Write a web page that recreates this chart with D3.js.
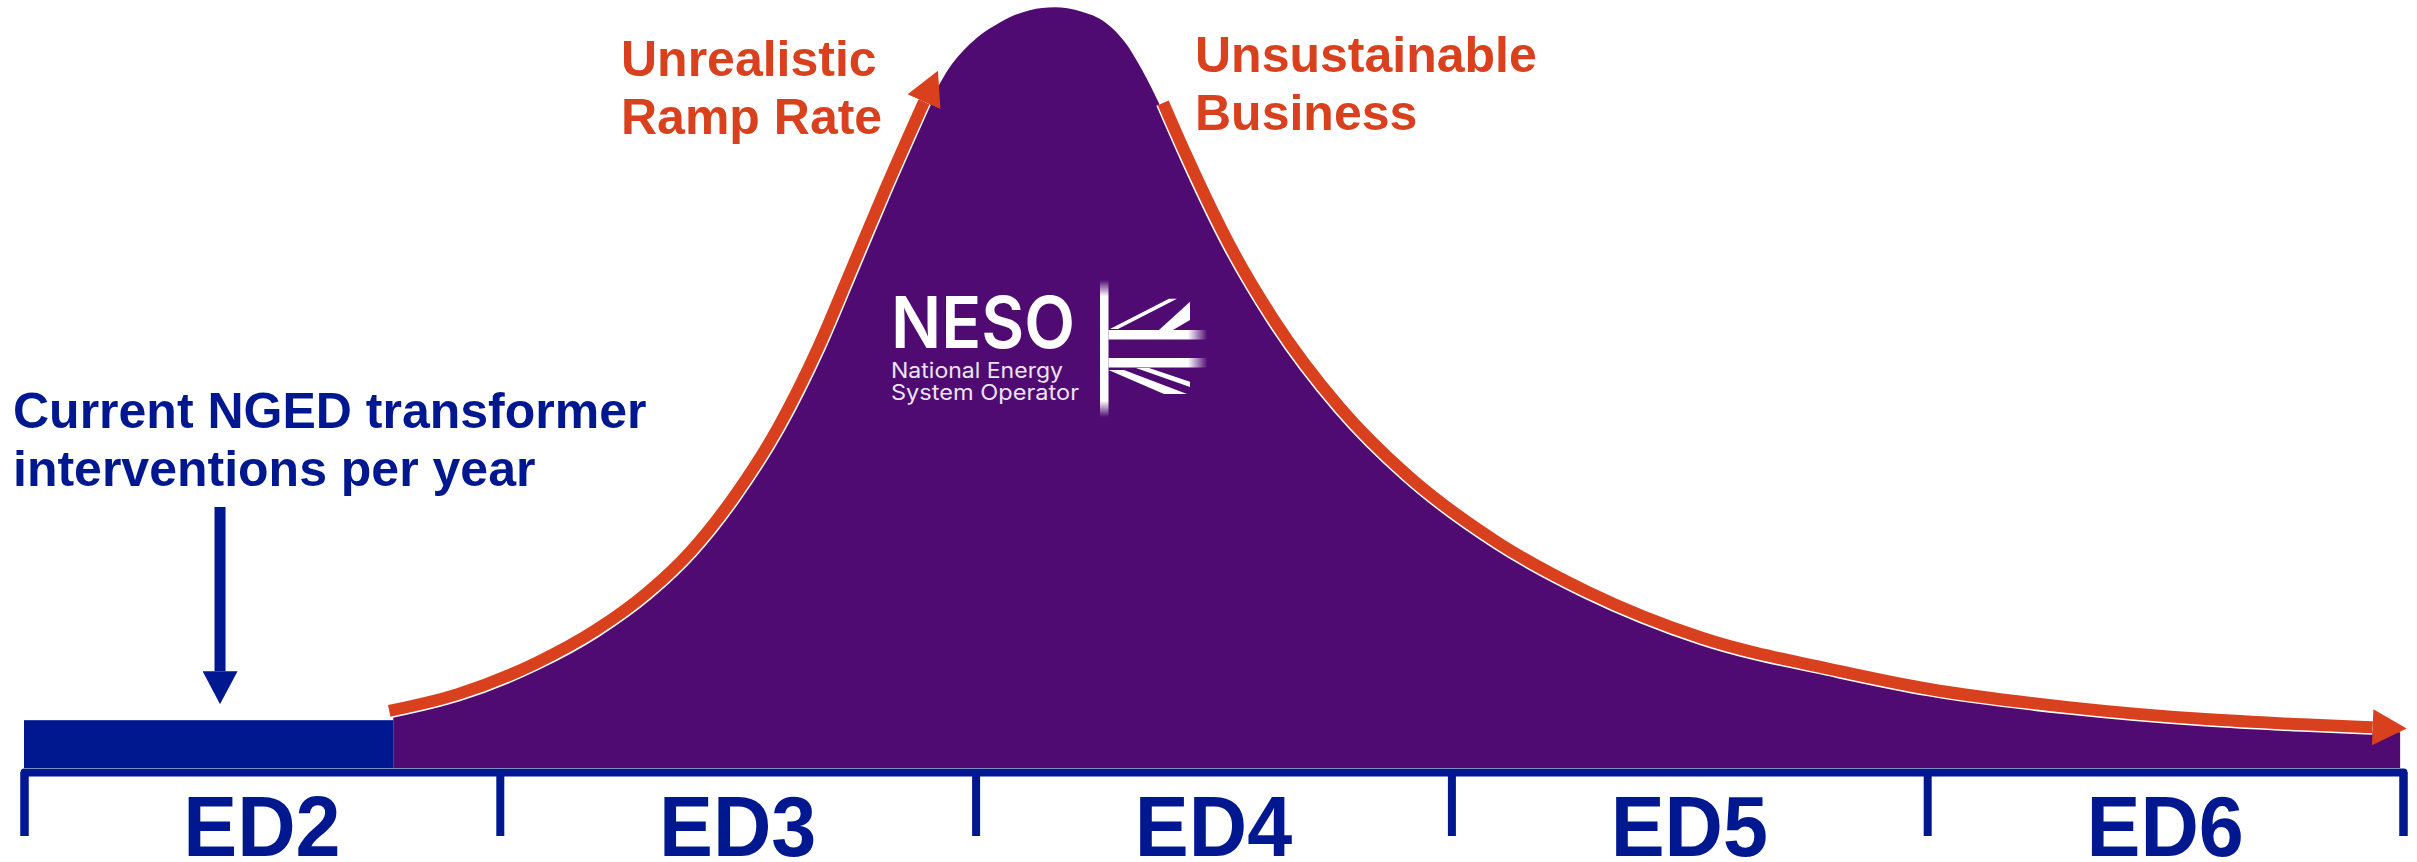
<!DOCTYPE html>
<html>
<head>
<meta charset="utf-8">
<script src="https://cdn.jsdelivr.net/npm/d3@7"></script>
<style>
  body { margin: 0; background: #fff; }
  text { font-family: "Liberation Sans", Arial, sans-serif; font-weight: bold; }
</style>
</head>
<body>
<div id="chart"></div>
<script>
'use strict';

// regulatory periods along the bottom
const periods = ["ED2", "ED3", "ED4", "ED5", "ED6"];
const periodStarts = [2023, 2028, 2033, 2038, 2043];
const periodEnd = 2048;

// transformer interventions per year, as multiples of today's rate
const currentRate = 1;
const currentYears = [2023, 2026.88];
const years = [2026.88, 2027.60, 2028.42, 2029.05, 2029.59, 2030.05, 2030.50, 2030.97, 2031.39, 2031.73,
  2032.08, 2032.50, 2032.69, 2032.94, 2033.26, 2033.57, 2033.83, 2034.10, 2034.36, 2034.57,
  2034.75, 2034.94, 2035.19, 2035.65, 2036.09, 2036.80, 2037.50, 2038.45, 2039.40, 2040.60,
  2042.04, 2042.99, 2044.45, 2045.89, 2046.92, 2047.65, 2047.97];
const interventions = [1.09, 1.44, 2.09, 2.78, 3.56, 4.43, 5.56, 7.03, 8.70, 10.29,
  11.94, 13.83, 14.54, 15.14, 15.60, 15.85, 15.91, 15.83, 15.60, 15.18,
  14.60, 13.85, 12.72, 10.83, 9.35, 7.47, 6.07, 4.66, 3.62, 2.66,
  1.97, 1.59, 1.21, 0.96, 0.85, 0.79, 0.75];

// stretches of the curve marked with the orange arrows
const rampYears = [2026.88, 2032.50];
const declineYears = [2034.94, 2047.65];
const arrowYear = 2025.06;

const navy = "#00188f", purple = "#4f0b72", orange = "#d9401e";
const width = 2417, height = 862;

const x = d3.scaleLinear().domain([2023, periodEnd]).range([24, 2403]);
const y = d3.scaleLinear().domain([0, 16]).range([768, 3]);

const svg = d3.select("#chart").append("svg")
  .attr("width", width)
  .attr("height", height);

const defs = svg.append("defs");

// arrow heads
defs.append("marker")
  .attr("id", "orangeHead")
  .attr("markerUnits", "userSpaceOnUse")
  .attr("viewBox", "0 0 34 36")
  .attr("markerWidth", 34).attr("markerHeight", 36)
  .attr("refX", 0).attr("refY", 18)
  .attr("orient", "auto")
  .append("path").attr("d", "M0,0L34,18L0,36Z").attr("fill", orange);

defs.append("marker")
  .attr("id", "navyHead")
  .attr("markerUnits", "userSpaceOnUse")
  .attr("viewBox", "0 0 33 35")
  .attr("markerWidth", 33).attr("markerHeight", 35)
  .attr("refX", 0).attr("refY", 17.5)
  .attr("orient", "auto")
  .append("path").attr("d", "M0,0L33,17.5L0,35Z").attr("fill", navy);

// fades used in the logo flag
const fadeV = defs.append("linearGradient").attr("id", "fadeV")
  .attr("x1", 0).attr("y1", 0).attr("x2", 0).attr("y2", 1);
fadeV.append("stop").attr("offset", 0).attr("stop-color", "#fff").attr("stop-opacity", 0);
fadeV.append("stop").attr("offset", 0.12).attr("stop-color", "#fff").attr("stop-opacity", 1);
fadeV.append("stop").attr("offset", 0.88).attr("stop-color", "#fff").attr("stop-opacity", 1);
fadeV.append("stop").attr("offset", 1).attr("stop-color", "#fff").attr("stop-opacity", 0);

const fadeH = defs.append("linearGradient").attr("id", "fadeH")
  .attr("x1", 0).attr("y1", 0).attr("x2", 1).attr("y2", 0);
fadeH.append("stop").attr("offset", 0.8).attr("stop-color", "#fff").attr("stop-opacity", 1);
fadeH.append("stop").attr("offset", 1).attr("stop-color", "#fff").attr("stop-opacity", 0);

const curve = years.map((yr, i) => ({year: yr, value: interventions[i]}));

// purple area
const area = d3.area()
  .x(d => x(d.year))
  .y0(y(0))
  .y1(d => y(d.value))
  .curve(d3.curveMonotoneX);

svg.append("path")
  .datum(curve)
  .attr("fill", purple)
  .attr("d", area);

// today's rate
svg.append("rect")
  .attr("x", x(currentYears[0]))
  .attr("y", y(currentRate))
  .attr("width", x(currentYears[1]) - x(currentYears[0]))
  .attr("height", y(0) - y(currentRate))
  .attr("fill", navy);

// bracket axis with period ticks
const axis = d3.axisBottom(x)
  .tickValues(periodStarts.concat([periodEnd]))
  .tickSizeInner(64)
  .tickSizeOuter(64)
  .tickFormat("");

const gAxis = svg.append("g")
  .attr("transform", "translate(0,772)")
  .call(axis);

gAxis.select(".domain")
  .attr("stroke", navy)
  .attr("stroke-width", 8)
  .attr("stroke-linejoin", "round")
  .attr("fill", "none");
gAxis.selectAll(".tick line")
  .attr("stroke", navy)
  .attr("stroke-width", 8);

periods.forEach(function(p, i) {
  const end = i < periods.length - 1 ? periodStarts[i + 1] : periodEnd;
  const t = svg.append("text")
    .attr("x", x((periodStarts[i] + end) / 2))
    .attr("y", 856)
    .attr("text-anchor", "middle")
    .attr("font-size", 86)
    .attr("fill", navy)
    .text(p);
  const w = t.node().getComputedTextLength();
  t.attr("textLength", w * 0.94).attr("lengthAdjust", "spacingAndGlyphs");
});

// orange arrows riding on the curve
const line = d3.line()
  .x(d => x(d.year))
  .y(d => y(d.value))
  .curve(d3.curveMonotoneX);

function segment(range) {
  return curve.filter(d => d.year >= range[0] - 1e-6 && d.year <= range[1] + 1e-6);
}

[[rampYears, "translate(-4,-5)"], [declineYears, "translate(3,-3)"]].forEach(function(s) {
  const g = svg.append("g").attr("transform", s[1]);
  const seg = segment(s[0]);
  g.append("path")
    .datum(seg)
    .attr("d", line)
    .attr("fill", "none")
    .attr("stroke", "#fff")
    .attr("stroke-width", 15);
  g.append("path")
    .datum(seg)
    .attr("d", line)
    .attr("fill", "none")
    .attr("stroke", orange)
    .attr("stroke-width", 12)
    .attr("marker-end", "url(#orangeHead)");
});

// navy arrow pointing at today's rate
svg.append("line")
  .attr("x1", x(arrowYear)).attr("x2", x(arrowYear))
  .attr("y1", 507)
  .attr("y2", y(currentRate) - 16 - 33)
  .attr("stroke", navy)
  .attr("stroke-width", 11)
  .attr("marker-end", "url(#navyHead)");

// annotations
function label(lines, x0, y0, color) {
  const t = svg.append("text").attr("font-size", 50).attr("fill", color);
  lines.forEach(function(l, i) {
    t.append("tspan").attr("x", x0).attr("y", y0 + i * 58).text(l);
  });
}
label(["Current NGED transformer", "interventions per year"], 13, 428, navy);
label(["Unrealistic", "Ramp Rate"], 621, 76, orange);
label(["Unsustainable", "Business"], 1195, 72, orange);

// NESO logo
const logo = svg.append("g");
logo.append("text")
  .attr("x", 891).attr("y", 348)
  .attr("font-size", 72)
  .style("font-family", "Inter, 'Noto Sans', sans-serif")
  .style("font-weight", 600)
  .attr("fill", "#fff")
  .attr("textLength", 184).attr("lengthAdjust", "spacingAndGlyphs")
  .text("NESO");
[["National Energy", 378, 172], ["System Operator", 400, 188]].forEach(function(r) {
  logo.append("text")
    .attr("x", 891).attr("y", r[1])
    .attr("font-size", 21)
    .style("font-family", "Inter, 'Noto Sans', sans-serif")
    .style("font-weight", 400)
    .attr("fill", "#ece4f2")
    .attr("textLength", r[2]).attr("lengthAdjust", "spacingAndGlyphs")
    .text(r[0]);
});

const flag = logo.append("g").attr("transform", "translate(1100,280)");
flag.append("rect").attr("x", 0).attr("y", 0).attr("width", 8.5).attr("height", 137).attr("fill", "url(#fadeV)");
flag.append("rect").attr("x", 8.5).attr("y", 50).attr("width", 99).attr("height", 9.5).attr("fill", "url(#fadeH)");
flag.append("rect").attr("x", 8.5).attr("y", 78).attr("width", 99).attr("height", 9.5).attr("fill", "url(#fadeH)");
const flagShapes = [
  "M10,49 L69,18.7 L77,18.7 L18,49 Z",
  "M59,50 L90,21.7 L90,40 L73,50 Z",
  "M8.5,90 L24,90 L87,114 L64,114 Z",
  "M36,88 L49,88 L90,101.7 L90,107 Z"
];
flag.selectAll("path.jack")
  .data(flagShapes)
  .enter().append("path")
  .attr("class", "jack")
  .attr("d", d => d)
  .attr("fill", "#fff");
</script>
</body>
</html>
